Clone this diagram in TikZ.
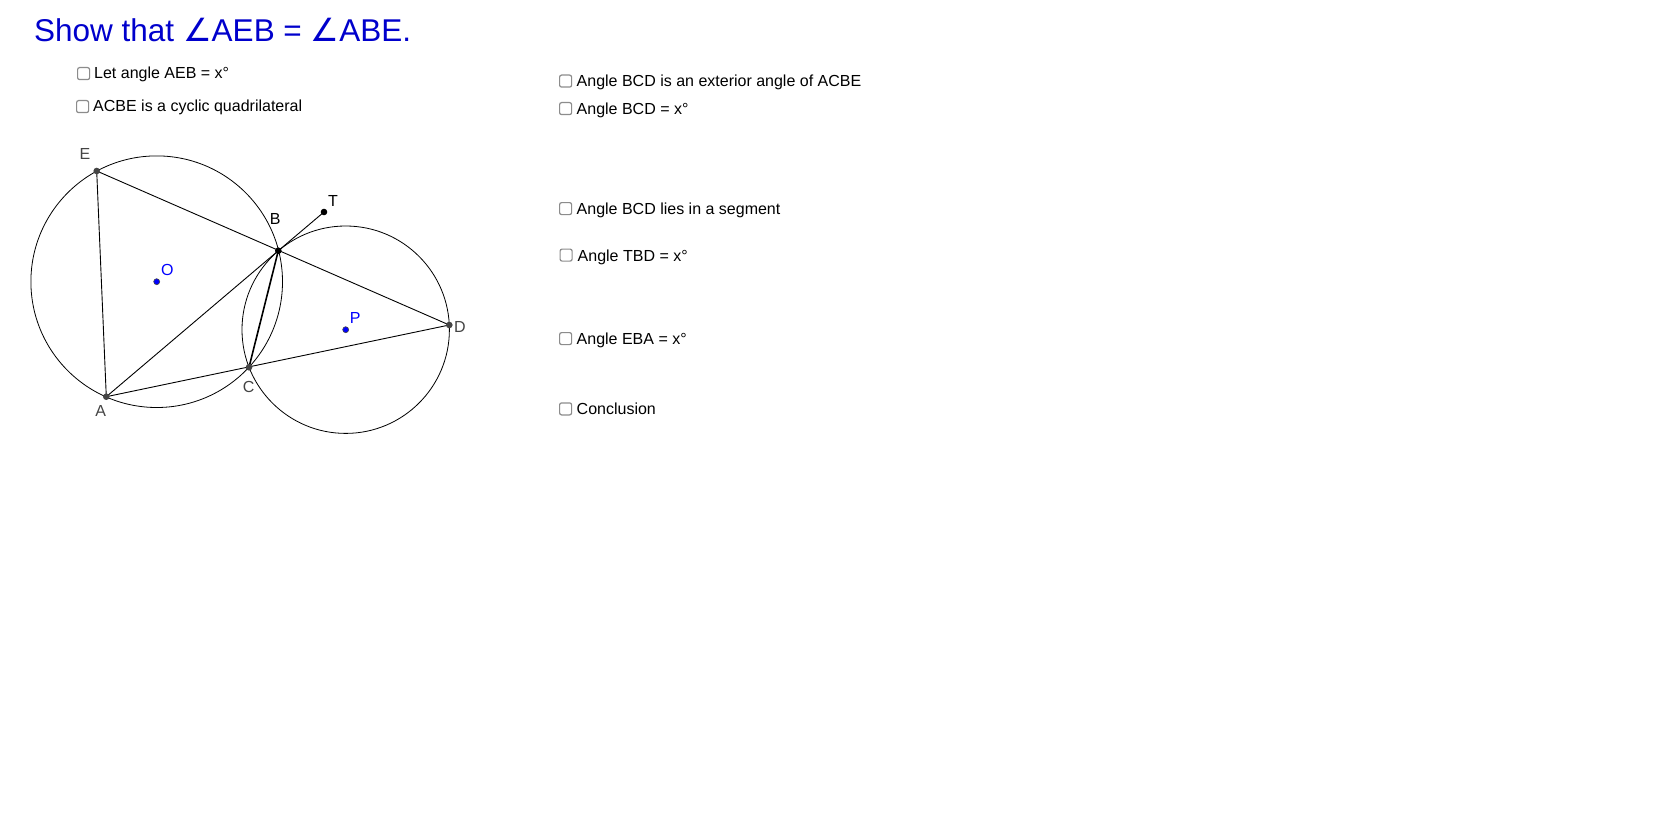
\documentclass[tikz,border=0pt]{standalone}
\usepackage{fontspec}
\setmainfont{Liberation Sans}
\newfontfamily\symfont{DejaVu Sans}
\usepackage{xcolor}
\definecolor{titleblue}{RGB}{0,0,204}
\definecolor{ptblue}{RGB}{0,0,255}
\definecolor{ptgray}{RGB}{68,68,68}
\definecolor{boxgray}{RGB}{140,140,140}

\begin{document}
\begin{tikzpicture}[x=1pt,y=1pt]
        \tikzstyle{every node}+=[inner sep=0pt]
        \tikzstyle{chk}=[draw=boxgray, line width=1.2pt, rounded corners=2pt, fill=white, minimum size=12pt, anchor=north west]
        \tikzstyle{lbl}=[anchor=base west, font=\fontsize{16}{19}\selectfont]
        \tikzstyle{ptlbl}=[font=\fontsize{16}{19}\selectfont]
        \useasboundingbox (0,0) rectangle (1680,-840);
        \fill [white] (0,0) rectangle (1680,-840);
        % title
        \node (title) [anchor=base west, text=titleblue, font=\fontsize{31.5}{36}\selectfont] at (34,-42) {Show that {\symfont\fontsize{32}{36}\selectfont∠}AEB = {\symfont\fontsize{32}{36}\selectfont∠}ABE.};
        % points
        \coordinate (O) at (156.7,-281.7);
        \coordinate (P) at (345.7,-329.7);
        \coordinate (E) at (96.7,-171);
        \coordinate (B) at (278.3,-250.7);
        \coordinate (T) at (324,-212);
        \coordinate (D) at (449.3,-325);
        \coordinate (C) at (249,-367.3);
        \coordinate (A) at (106.3,-396.7);
        % circles
        \draw [black, line width=0.8pt] (O) circle (125.8);
        \draw [black, line width=0.8pt] (P) circle (103.7);
        % lines
        \draw [black, line width=0.9pt] (E) -- (D);
        \draw [black, line width=0.9pt] (A) -- (D);
        \draw [black, line width=0.9pt] (E) -- (A);
        \draw [black, line width=0.9pt] (A) -- (B);
        \draw [black, line width=1.6pt] (B) -- (C);
        \draw [black, line width=0.9pt] (B) -- (T);
        % dots
        \foreach \p in {E,A,C,D} \fill [ptgray] (\p) circle (3.3);
        \foreach \p in {B,T} \fill [black] (\p) circle (3.3);
        \foreach \p in {O,P} \filldraw [fill=ptblue, draw=ptgray, line width=0.6pt] (\p) circle (3);
        % point labels
        \node (lE) [ptlbl, text=ptgray] at (85,-154) {E};
        \node (lB) [ptlbl] at (275.3,-219.3) {B};
        \node (lT) [ptlbl] at (333,-200.7) {T};
        \node (lO) [ptlbl, text=ptblue] at (167.3,-270) {O};
        \node (lP) [ptlbl, text=ptblue] at (355.3,-318.3) {P};
        \node (lD) [ptlbl, text=ptgray] at (460,-326.7) {D};
        \node (lC) [ptlbl, text=ptgray] at (248.7,-386.7) {C};
        \node (lA) [ptlbl, text=ptgray] at (100.7,-411) {A};
        % checkboxes
        \node (box1) [chk] at (77,-67) {};
        \node (txt1) [lbl] at (94,-78.8) {Let angle AEB = x°};
        \node (box2) [chk] at (76,-100) {};
        \node (txt2) [lbl] at (93,-112) {ACBE is a cyclic quadrilateral};
        \node (box3) [chk] at (559,-74.5) {};
        \node (txt3) [lbl] at (576.5,-86.8) {Angle BCD is an exterior angle of ACBE};
        \node (box4) [chk] at (559,-102) {};
        \node (txt4) [lbl] at (576.5,-114.5) {Angle BCD = x°};
        \node (box5) [chk] at (559,-202) {};
        \node (txt5) [lbl] at (576.5,-214.5) {Angle BCD lies in a segment};
        \node (box6) [chk] at (559.5,-248.5) {};
        \node (txt6) [lbl] at (577.5,-261) {Angle TBD = x°};
        \node (box7) [chk] at (559,-332) {};
        \node (txt7) [lbl] at (576.5,-344.5) {Angle EBA = x°};
        \node (box8) [chk] at (559,-402.3) {};
        \node (txt8) [lbl] at (576.5,-414.5) {Conclusion};
\end{tikzpicture}
\end{document}
